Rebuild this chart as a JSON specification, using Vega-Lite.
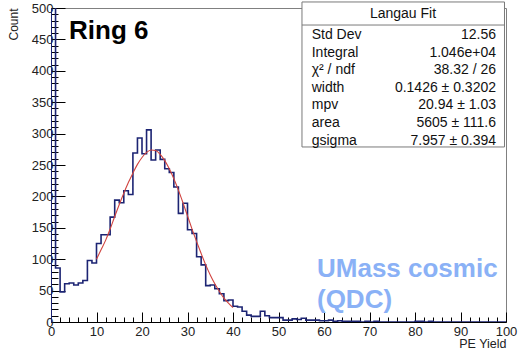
{
  "$schema": "https://vega.github.io/schema/vega-lite/v6.json",
  "width": 455,
  "height": 314,
  "autosize": {"type": "none"},
  "padding": {"left": 51, "top": 8, "right": 13, "bottom": 30},
  "background": "white",
  "config": {
    "view": {"stroke": "#808080", "strokeWidth": 1},
    "font": "Liberation Sans",
    "axis": {"grid": false, "labelOverlap": false, "labelFlush": false, "labelBound": false}
  },
  "datasets": {
    "hist": [
      {"x": 0, "count": 0},
      {"x": 0, "count": 600}, {"x": 1, "count": 86}, {"x": 2, "count": 48}, {"x": 3, "count": 61}, {"x": 4, "count": 62},
      {"x": 5, "count": 59}, {"x": 6, "count": 62}, {"x": 7, "count": 66}, {"x": 8, "count": 98}, {"x": 9, "count": 94},
      {"x": 10, "count": 125}, {"x": 11, "count": 139}, {"x": 12, "count": 139}, {"x": 13, "count": 167}, {"x": 14, "count": 194},
      {"x": 15, "count": 190}, {"x": 16, "count": 209}, {"x": 17, "count": 203}, {"x": 18, "count": 269}, {"x": 19, "count": 293},
      {"x": 20, "count": 268}, {"x": 21, "count": 306}, {"x": 22, "count": 258}, {"x": 23, "count": 274}, {"x": 24, "count": 259},
      {"x": 25, "count": 244}, {"x": 26, "count": 238}, {"x": 27, "count": 215}, {"x": 28, "count": 173}, {"x": 29, "count": 189},
      {"x": 30, "count": 147}, {"x": 31, "count": 141}, {"x": 32, "count": 104}, {"x": 33, "count": 91}, {"x": 34, "count": 58},
      {"x": 35, "count": 59}, {"x": 36, "count": 53}, {"x": 37, "count": 45}, {"x": 38, "count": 34}, {"x": 39, "count": 35},
      {"x": 40, "count": 25}, {"x": 41, "count": 24}, {"x": 42, "count": 17}, {"x": 43, "count": 11}, {"x": 44, "count": 9},
      {"x": 45, "count": 9}, {"x": 46, "count": 17}, {"x": 47, "count": 10}, {"x": 48, "count": 7}, {"x": 49, "count": 7},
      {"x": 50, "count": 7}, {"x": 51, "count": 3}, {"x": 52, "count": 3}, {"x": 53, "count": 5}, {"x": 54, "count": 4},
      {"x": 55, "count": 6}, {"x": 56, "count": 3}, {"x": 57, "count": 3}, {"x": 58, "count": 3}, {"x": 59, "count": 2},
      {"x": 60, "count": 2}, {"x": 61, "count": 3}, {"x": 62, "count": 1}, {"x": 63, "count": 2}, {"x": 64, "count": 1},
      {"x": 65, "count": 1}, {"x": 66, "count": 1}, {"x": 67, "count": 1}, {"x": 68, "count": 0}, {"x": 69, "count": 1},
      {"x": 70, "count": 0}, {"x": 71, "count": 1}, {"x": 72, "count": 0}, {"x": 73, "count": 0}, {"x": 74, "count": 0},
      {"x": 75, "count": 0}, {"x": 76, "count": 0}, {"x": 77, "count": 0}, {"x": 78, "count": 0}, {"x": 79, "count": 0},
      {"x": 80, "count": 1}, {"x": 81, "count": 1}, {"x": 82, "count": 0}, {"x": 83, "count": 1}, {"x": 84, "count": 0},
      {"x": 85, "count": 0}, {"x": 86, "count": 0}, {"x": 87, "count": 0}, {"x": 88, "count": 0}, {"x": 89, "count": 0},
      {"x": 90, "count": 0}, {"x": 91, "count": 0}, {"x": 92, "count": 0}, {"x": 93, "count": 0}, {"x": 94, "count": 0},
      {"x": 95, "count": 0}, {"x": 96, "count": 0}, {"x": 97, "count": 0}, {"x": 98, "count": 0}, {"x": 99, "count": 0},
      {"x": 100, "count": 0}
    ],
    "fit": [
      {"x": 10, "y": 100}, {"x": 11, "y": 115}, {"x": 12, "y": 130}, {"x": 13, "y": 148}, {"x": 14, "y": 168},
      {"x": 15, "y": 187}, {"x": 16, "y": 205}, {"x": 17, "y": 222}, {"x": 18, "y": 237}, {"x": 19, "y": 251},
      {"x": 20, "y": 262}, {"x": 21, "y": 270}, {"x": 22, "y": 274}, {"x": 23, "y": 273}, {"x": 24, "y": 267},
      {"x": 25, "y": 257}, {"x": 26, "y": 244}, {"x": 27, "y": 228}, {"x": 28, "y": 210}, {"x": 29, "y": 190},
      {"x": 30, "y": 169}, {"x": 31, "y": 148}, {"x": 32, "y": 128}, {"x": 33, "y": 109}, {"x": 34, "y": 91},
      {"x": 35, "y": 75}, {"x": 36, "y": 61}, {"x": 37, "y": 49}, {"x": 38, "y": 38}, {"x": 39, "y": 30},
      {"x": 40, "y": 23}
    ],
    "stats": [
      {"stat": "Std Dev", "value": "12.56"},
      {"stat": "Integral", "value": "1.046e+04"},
      {"stat": "χ² / ndf", "value": "38.32 / 26"},
      {"stat": "width", "value": "0.1426 ± 0.3202"},
      {"stat": "mpv", "value": "20.94 ± 1.03"},
      {"stat": "area", "value": "5605 ± 111.6"},
      {"stat": "gsigma", "value": "7.957 ± 0.394"}
    ],
    "one": [{}]
  },
  "layer": [
    {
      "data": {"name": "hist"},
      "mark": {"type": "line", "interpolate": "step-after", "clip": true, "color": "#1c2473", "strokeWidth": 1.6},
      "encoding": {
        "x": {
          "field": "x", "type": "quantitative",
          "scale": {"domain": [0, 100], "nice": false, "zero": false},
          "axis": {
            "values": [0,2,4,6,8,10,12,14,16,18,20,22,24,26,28,30,32,34,36,38,40,42,44,46,48,50,52,54,56,58,60,62,64,66,68,70,72,74,76,78,80,82,84,86,88,90,92,94,96,98,100],
            "tickCount": 200,
            "format": "d",
            "labelExpr": "datum.value % 10 === 0 ? datum.label : ''",
            "tickSize": {"condition": {"test": "datum.value % 10 === 0", "value": -10}, "value": -5},
            "tickColor": "#000", "domainColor": "#000",
            "labelFontSize": 13, "labelColor": "#222", "labelPadding": 13,
            "title": "PE Yield", "titleAnchor": "end", "titleFontSize": 12.5,
            "titleFontWeight": "normal", "titleColor": "#222", "titlePadding": -6
          }
        },
        "y": {
          "field": "count", "type": "quantitative",
          "scale": {"domain": [0, 500], "nice": false},
          "axis": {
            "values": [0,10,20,30,40,50,60,70,80,90,100,110,120,130,140,150,160,170,180,190,200,210,220,230,240,250,260,270,280,290,300,310,320,330,340,350,360,370,380,390,400,410,420,430,440,450,460,470,480,490,500],
            "tickCount": 200,
            "format": "d",
            "labelExpr": "datum.value % 50 === 0 ? datum.label : ''",
            "tickSize": {"condition": {"test": "datum.value % 50 === 0", "value": -14}, "value": -7},
            "tickColor": "#000", "domainColor": "#1c2473",
            "labelFontSize": 13, "labelColor": "#222", "labelPadding": 12,
            "title": "Count", "titleAnchor": "end", "titleFontSize": 12,
            "titleFontWeight": "normal", "titleColor": "#222", "titlePadding": 11
          }
        },
        "order": {"value": null}
      }
    },
    {
      "data": {"name": "fit"},
      "mark": {"type": "line", "interpolate": "monotone", "color": "#d0433f", "strokeWidth": 1.1},
      "encoding": {
        "x": {"field": "x", "type": "quantitative"},
        "y": {"field": "y", "type": "quantitative"}
      }
    },
    {
      "data": {"name": "one"},
      "mark": {"type": "rect", "fill": "white", "stroke": "#7a7a7a", "strokeWidth": 1},
      "encoding": {
        "x": {"datum": 55.16, "type": "quantitative"},
        "x2": {"datum": 99.67},
        "y": {"datum": 509.6, "type": "quantitative"},
        "y2": {"datum": 278.7}
      }
    },
    {
      "data": {"name": "one"},
      "mark": {"type": "rule", "stroke": "#7a7a7a", "strokeWidth": 1},
      "encoding": {
        "x": {"datum": 55.16, "type": "quantitative"},
        "x2": {"datum": 99.67},
        "y": {"datum": 472.9, "type": "quantitative"}
      }
    },
    {
      "data": {"name": "one"},
      "mark": {"type": "text", "text": "Langau Fit", "fontSize": 14, "align": "center", "baseline": "middle", "color": "#111"},
      "encoding": {
        "x": {"datum": 77.36, "type": "quantitative"},
        "y": {"datum": 490.4, "type": "quantitative"}
      }
    },
    {
      "data": {"name": "stats"},
      "transform": [
        {"aggregate": [{"op": "values", "field": "stat", "as": "rows"}]},
        {"calculate": "pluck(datum.rows, 'stat')", "as": "names"},
        {"calculate": "pluck(datum.rows, 'value')", "as": "vals"}
      ],
      "layer": [
        {
          "mark": {"type": "text", "fontSize": 14, "lineHeight": 17.55, "align": "left", "baseline": "alphabetic", "color": "#111"},
          "encoding": {
            "x": {"datum": 57.3, "type": "quantitative"},
            "y": {"datum": 450.2, "type": "quantitative"},
            "text": {"field": "names", "type": "nominal"}
          }
        },
        {
          "mark": {"type": "text", "fontSize": 14, "lineHeight": 17.55, "align": "right", "baseline": "alphabetic", "color": "#111"},
          "encoding": {
            "x": {"datum": 97.8, "type": "quantitative"},
            "y": {"datum": 450.2, "type": "quantitative"},
            "text": {"field": "vals", "type": "nominal"}
          }
        }
      ]
    },
    {
      "data": {"name": "one"},
      "mark": {"type": "text", "text": "Ring 6", "fontSize": 26, "fontWeight": "bold", "align": "left", "baseline": "alphabetic", "color": "#000"},
      "encoding": {
        "x": {"datum": 3.96, "type": "quantitative"},
        "y": {"datum": 450.6, "type": "quantitative"}
      }
    },
    {
      "data": {"name": "one"},
      "mark": {"type": "text", "text": ["UMass cosmic", "(QDC)"], "lineHeight": 31, "fontSize": 26, "fontWeight": "bold", "align": "left", "baseline": "alphabetic", "color": "#8ab1f6"},
      "encoding": {
        "x": {"datum": 58.46, "type": "quantitative"},
        "y": {"datum": 71.7, "type": "quantitative"}
      }
    }
  ]
}
